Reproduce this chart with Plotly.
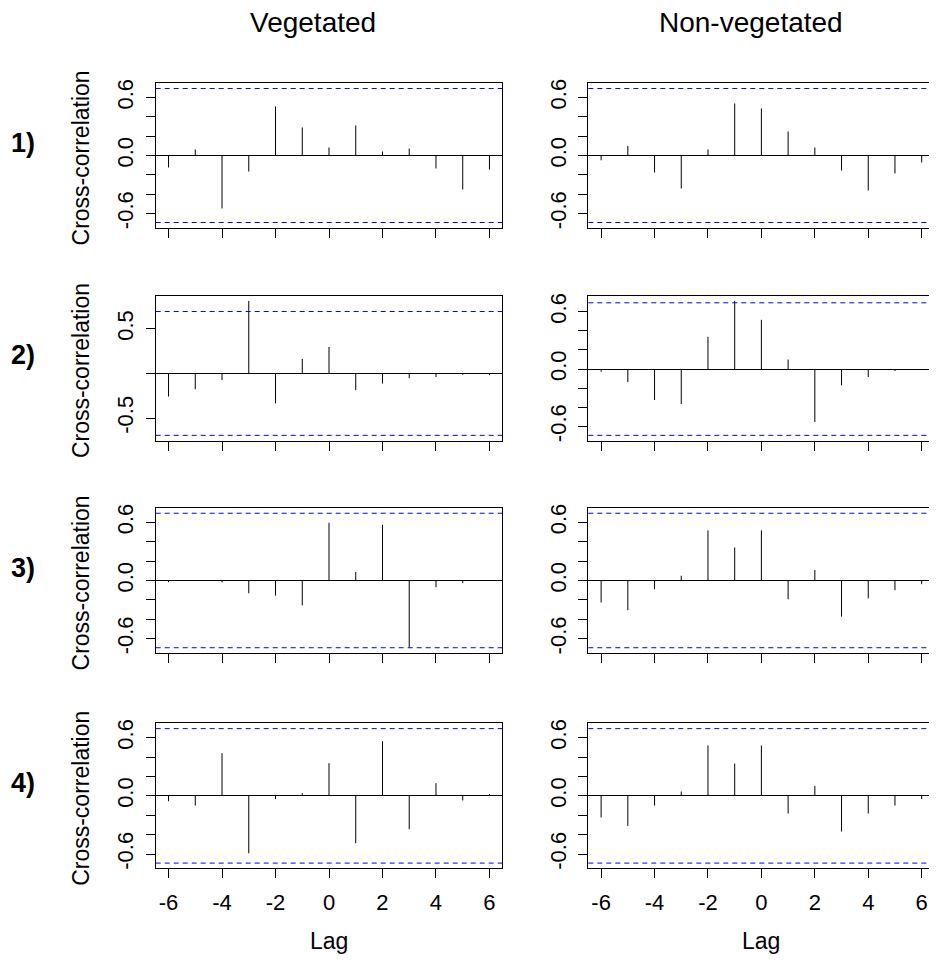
import math
import plotly.graph_objects as go

# ---------------- data ----------------
lags = [-6, -5, -4, -3, -2, -1, 0, 1, 2, 3, 4, 5, 6]

veg1 = [-0.124, 0.062, -0.548, -0.166, 0.507, 0.290, 0.083, 0.310, 0.041, 0.072, -0.134, -0.352, -0.145]
nonveg1 = [-0.050, 0.100, -0.176, -0.341, 0.062, 0.538, 0.486, 0.248, 0.083, -0.155, -0.362, -0.186, -0.072]
veg2 = [-0.259, -0.177, -0.075, 0.812, -0.335, 0.162, 0.297, -0.188, -0.113, -0.053, -0.041, -0.015, -0.020]
nonveg2 = [-0.028, -0.136, -0.323, -0.365, 0.337, 0.713, 0.515, 0.100, -0.553, -0.170, -0.083, -0.020, -0.005]
veg3 = [-0.017, -0.003, -0.020, -0.131, -0.156, -0.256, 0.595, 0.087, 0.574, -0.690, -0.069, -0.028, 0.003]
nonveg3 = [-0.226, -0.306, -0.090, 0.049, 0.517, 0.340, 0.517, -0.194, 0.108, -0.372, -0.184, -0.100, -0.038]
veg4 = [-0.055, -0.100, 0.440, -0.591, -0.034, 0.027, 0.337, -0.488, 0.564, -0.344, 0.131, -0.048, 0.017]
nonveg4 = [-0.223, -0.309, -0.100, 0.045, 0.519, 0.333, 0.519, -0.182, 0.103, -0.368, -0.182, -0.100, -0.034]

col_titles = ["Vegetated", "Non-vegetated"]
row_labels = ["1)", "2)", "3)", "4)"]
y_title = "Cross-correlation"
x_title = "Lag"
x_tickvals = [-6, -4, -2, 0, 2, 4, 6]
y_ticks_fine = [-0.6, -0.4, -0.2, 0.0, 0.2, 0.4, 0.6]
y_labels_fine = ["-0.6", "", "", "0.0", "", "", "0.6"]
y_ticks_coarse = [-0.5, 0.0, 0.5]
y_labels_coarse = ["-0.5", "", "0.5"]
n_obs = 8
ci = 1.96 / math.sqrt(n_obs)

panels = [[veg1, nonveg1], [veg2, nonveg2], [veg3, nonveg3], [veg4, nonveg4]]

# ---------------- layout geometry (pixels of the page) ----------------
OFF = 8  # page body margin
W, H = 937, 960
col_x = [(155.7, 502.3), (588.3, 934.5)]
row_y = [(79.5, 225.0), (293.0, 439.0), (506.5, 652.5), (723.0, 869.0)]
FONT = "Liberation Sans, Arial, sans-serif"
FW, FH = W - OFF, H - OFF


def px(x):
    return (x - OFF) / FW


def py(y):
    return 1 - (y - OFF) / FH


fig = go.Figure()
layout = dict(
    width=FW, height=FH,
    margin=dict(l=0, r=0, t=0, b=0),
    paper_bgcolor="white", plot_bgcolor="white",
    showlegend=False,
    font=dict(family=FONT, color="black"),
)
shapes = []
annotations = []

for r in range(4):
    for c in range(2):
        k = r * 2 + c + 1
        xa = "x" if k == 1 else f"x{k}"
        ya = "y" if k == 1 else f"y{k}"
        vals = panels[r][c]
        xs, ys = [], []
        for l, v in zip(lags, vals):
            xs += [l, l, None]
            ys += [0, v, None]
        fig.add_trace(go.Scatter(x=xs, y=ys, mode="lines",
                                 line=dict(color="black", width=1),
                                 xaxis=xa, yaxis=ya, hoverinfo="skip"))
        lo = min(min(vals), -ci)
        hi = max(max(vals), ci)
        pad = 0.04 * (hi - lo)
        yr = [lo - pad, hi + pad]
        if hi > 0.78:
            tv, tt = y_ticks_coarse, y_labels_coarse
        else:
            tv, tt = y_ticks_fine, y_labels_fine
        x0, x1 = col_x[c]
        y0, y1 = row_y[r]
        xkey = "xaxis" if k == 1 else f"xaxis{k}"
        ykey = "yaxis" if k == 1 else f"yaxis{k}"
        layout[xkey] = dict(
            domain=[px(x0), px(x1)], anchor=ya, range=[-6.48, 6.48],
            tickvals=x_tickvals,
            ticktext=[str(v) for v in x_tickvals] if r == 3 else [""] * len(x_tickvals),
            ticks="outside", ticklen=9, tickcolor="black", tickwidth=1,
            showline=True, mirror=True, linecolor="black", linewidth=1,
            showgrid=False, zeroline=False,
            tickfont=dict(size=22, family=FONT, color="black"),
            ticklabelstandoff=5,
        )
        layout[ykey] = dict(
            domain=[py(y1), py(y0)], anchor=xa, range=yr,
            tickvals=tv, ticktext=tt, tickangle=-90,
            ticks="outside", ticklen=9, tickcolor="black", tickwidth=1,
            showline=True, mirror=True, linecolor="black", linewidth=1,
            showgrid=False, zeroline=True, zerolinecolor="black", zerolinewidth=1,
            tickfont=dict(size=22, family=FONT, color="black"),
            ticklabelstandoff=4,
        )
        for s in (ci, -ci):
            shapes.append(dict(type="line", xref=f"{xa} domain", x0=0, x1=1,
                               yref=ya, y0=s, y1=s,
                               line=dict(color="#0000ff", width=1, dash="5px,4px")))
        if c == 0:
            annotations.append(dict(
                text=y_title, textangle=-90, xref="paper", yref="paper",
                x=px(81), y=py((y0 + y1) / 2 + 3), xanchor="center", yanchor="middle",
                showarrow=False, font=dict(size=23, family=FONT, color="black")))
        if r == 3:
            annotations.append(dict(
                text=x_title, xref="paper", yref="paper",
                x=px((x0 + x1) / 2), y=py(942), xanchor="center", yanchor="middle",
                showarrow=False, font=dict(size=23, family=FONT, color="black")))
    annotations.append(dict(
        text="<b>" + row_labels[r] + "</b>", xref="paper", yref="paper",
        x=px(23), y=py(row_y[r][0] + 60), xanchor="center", yanchor="middle",
        showarrow=False, font=dict(size=27, family=FONT, color="black")))

for c, (t, cx) in enumerate(zip(col_titles, [313, 750.5])):
    annotations.append(dict(
        text=t, xref="paper", yref="paper", x=px(cx), y=py(18.5),
        xanchor="center", yanchor="middle", showarrow=False,
        font=dict(size=28, family=FONT, color="black")))

layout["shapes"] = shapes
layout["annotations"] = annotations
fig.update_layout(**layout)
fig.write_html("out.html")
